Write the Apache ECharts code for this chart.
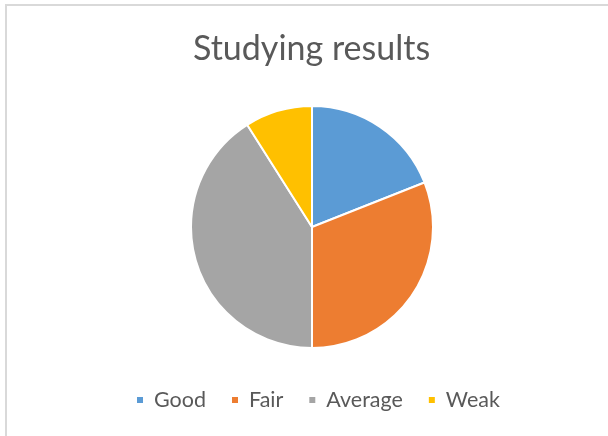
<!DOCTYPE html>
<html>
<head>
<meta charset="utf-8">
<script src="https://cdn.jsdelivr.net/npm/echarts@6/dist/echarts.min.js"></script>
<style>
  html, body { margin: 0; padding: 0; background: #fff; }
  #chart { width: 608px; height: 436px; }
</style>
</head>
<body>
<div id="chart"></div>
<script>
// categories and values
const categories = ["Good", "Fair", "Average", "Weak"];
const values = [19, 31, 41, 9];
const colors = ["#5B9BD5", "#ED7D31", "#A5A5A5", "#FFC000"];

const chart = echarts.init(document.getElementById("chart"));

const option = {
  backgroundColor: "#fff",
  // light chart-area frame, like the Excel original
  graphic: [{
    type: "rect",
    shape: { x: 6, y: 5, width: 700, height: 500 },
    style: { fill: "none", stroke: "#d9d9d9", lineWidth: 2 },
    silent: true
  }],
  title: {
    text: "Studying results",
    left: 188,
    top: 27,
    textStyle: {
      fontFamily: "Lato",
      fontWeight: "normal",
      fontSize: 34,
      color: "#595959"
    }
  },
  legend: {
    data: categories,
    top: 384,
    left: 130,
    icon: "rect",
    itemWidth: 8,
    itemHeight: 8,
    itemGap: 24,
    textStyle: {
      fontFamily: "Lato",
      fontSize: 21.5,
      color: "#595959",
      padding: [0, 0, 0, 5]
    }
  },
  series: [{
    type: "pie",
    radius: 121,
    center: [312, 227],
    startAngle: 90,
    clockwise: true,
    label: { show: false },
    labelLine: { show: false },
    itemStyle: { borderColor: "#fff", borderWidth: 2 },
    emphasis: { scale: false },
    data: categories.map((c, i) => ({
      name: c,
      value: values[i],
      itemStyle: { color: colors[i] }
    }))
  }]
};

chart.setOption(option);
</script>
</body>
</html>
